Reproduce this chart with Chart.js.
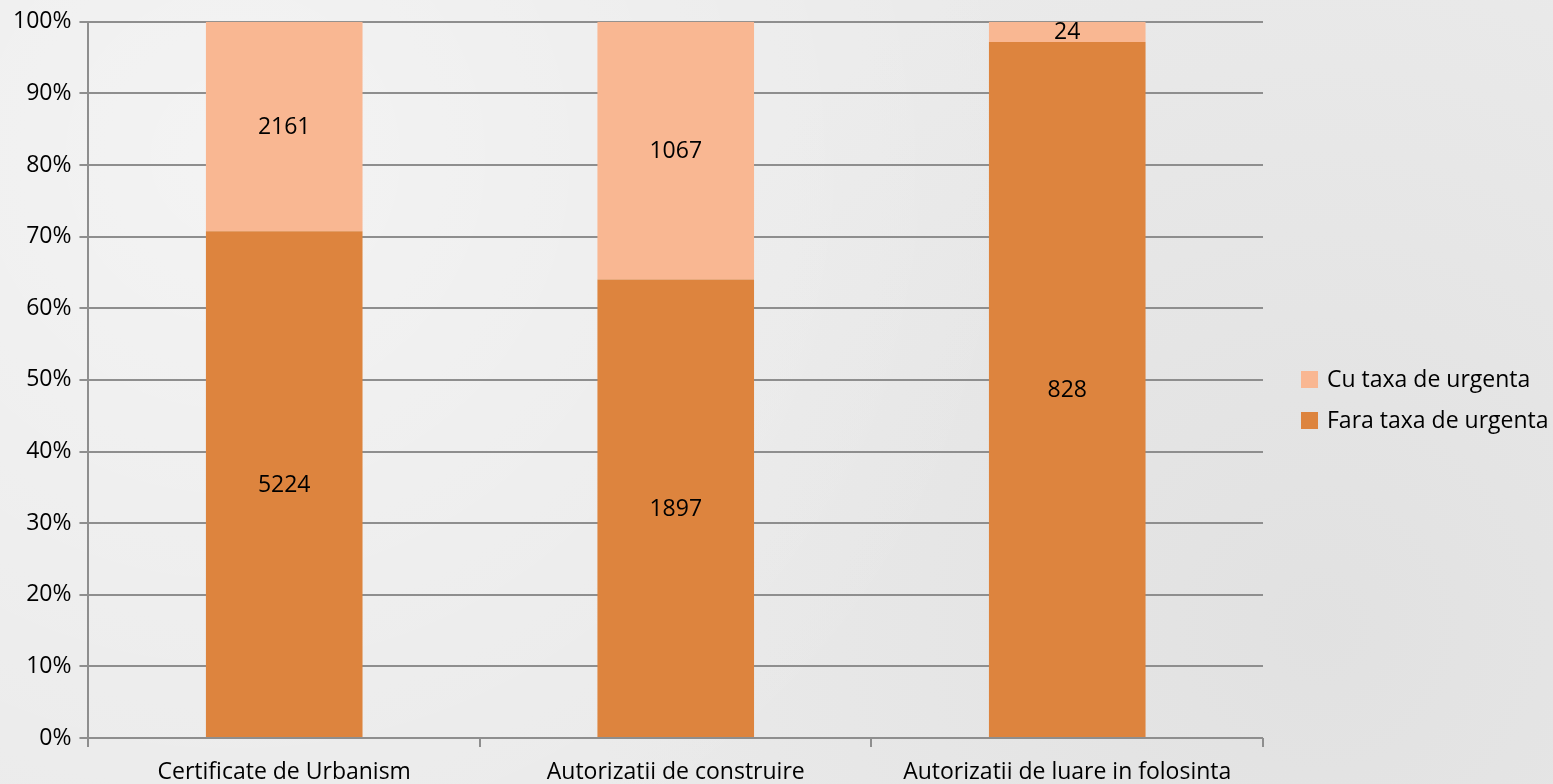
<!DOCTYPE html>
<html>
<head>
<meta charset="utf-8">
<script src="https://cdn.jsdelivr.net/npm/chart.js@4.4.0/dist/chart.umd.min.js"></script>
<style>
    html, body { margin: 0; padding: 0; overflow: hidden; }
    body {
        width: 1553px;
        height: 784px;
        background-color: #eaeaea;
        background-image: radial-gradient(circle at 15% 20%, rgba(255,255,255,0.45), transparent 55%),
                          radial-gradient(circle at 85% 80%, rgba(205,205,205,0.3), transparent 50%);
    }
    canvas { display: block; }
</style>
</head>
<body>
<canvas id="stackChart" width="1553" height="784"></canvas>
<script>
// Chart data
const categories = ['Certificate de Urbanism', 'Autorizatii de construire', 'Autorizatii de luare in folosinta'];
const faraTaxa = [5224, 1897, 828];
const cuTaxa = [2161, 1067, 24];
const yTicks = [0, 10, 20, 30, 40, 50, 60, 70, 80, 90, 100];

const FONT = '"Open Sans", sans-serif';

// 100% stacked: share of each series per category
function share(values, i) {
    return values[i] / (faraTaxa[i] + cuTaxa[i]) * 100;
}

// Draw counts in the middle of each bar segment
const valueLabels = {
    id: 'valueLabels',
    afterDatasetsDraw(chart) {
        const ctx = chart.ctx;
        ctx.save();
        ctx.font = '23px ' + FONT;
        ctx.fillStyle = '#000';
        ctx.textAlign = 'center';
        ctx.textBaseline = 'middle';
        chart.data.datasets.forEach((ds, di) => {
            chart.getDatasetMeta(di).data.forEach((bar, i) => {
                const mid = (bar.y + bar.base) / 2 + 1;
                ctx.fillText(ds.counts[i], bar.x, mid);
            });
        });
        ctx.restore();
    }
};

// Legend on the right, top item = last dataset
const sideLegend = {
    id: 'sideLegend',
    afterDraw(chart) {
        const ctx = chart.ctx;
        const items = chart.data.datasets.slice().reverse();
        const x = chart.chartArea.right + 38;
        const rowH = 41;
        let y = 379;
        ctx.save();
        ctx.font = '23px ' + FONT;
        ctx.textBaseline = 'middle';
        ctx.textAlign = 'left';
        items.forEach(ds => {
            ctx.fillStyle = ds.backgroundColor;
            ctx.fillRect(x, y - 8, 17, 17);
            ctx.fillStyle = '#000';
            ctx.fillText(ds.label, x + 26, y + 1);
            y += rowH;
        });
        ctx.restore();
    }
};

document.addEventListener('DOMContentLoaded', function() {
    const ctx = document.getElementById('stackChart');
    new Chart(ctx, {
        type: 'bar',
        data: {
            labels: categories,
            datasets: [{
                label: 'Fara taxa de urgenta',
                counts: faraTaxa,
                data: faraTaxa.map((v, i) => share(faraTaxa, i)),
                backgroundColor: '#dd843e',
                categoryPercentage: 1,
                barPercentage: 0.4
            }, {
                label: 'Cu taxa de urgenta',
                counts: cuTaxa,
                data: cuTaxa.map((v, i) => share(cuTaxa, i)),
                backgroundColor: '#f9b792',
                categoryPercentage: 1,
                barPercentage: 0.4
            }]
        },
        options: {
            responsive: false,
            animation: false,
            layout: {
                padding: { top: 8, right: 290, bottom: 0, left: 5 }
            },
            plugins: {
                legend: { display: false },
                tooltip: { enabled: false }
            },
            scales: {
                x: {
                    stacked: true,
                    afterFit: function(axis) {
                        axis.height = 46;
                    },
                    grid: {
                        offset: true,
                        drawOnChartArea: false,
                        drawTicks: true,
                        tickLength: 9,
                        color: '#8e8e8e',
                        lineWidth: 2
                    },
                    border: { display: false },
                    ticks: {
                        color: '#000',
                        padding: 12,
                        maxRotation: 0,
                        autoSkip: false,
                        font: { family: FONT, size: 23 }
                    }
                },
                y: {
                    stacked: true,
                    min: 0,
                    max: 100,
                    afterBuildTicks: function(axis) {
                        axis.ticks = yTicks.map(v => ({ value: v }));
                    },
                    grid: {
                        color: '#8e8e8e',
                        lineWidth: 2,
                        tickLength: 9
                    },
                    border: { color: '#8e8e8e', width: 2 },
                    ticks: {
                        color: '#000',
                        padding: 8,
                        font: { family: FONT, size: 23 },
                        callback: function(value) {
                            return value + '%';
                        }
                    }
                }
            }
        },
        plugins: [valueLabels, sideLegend]
    });
});
</script>
</body>
</html>
